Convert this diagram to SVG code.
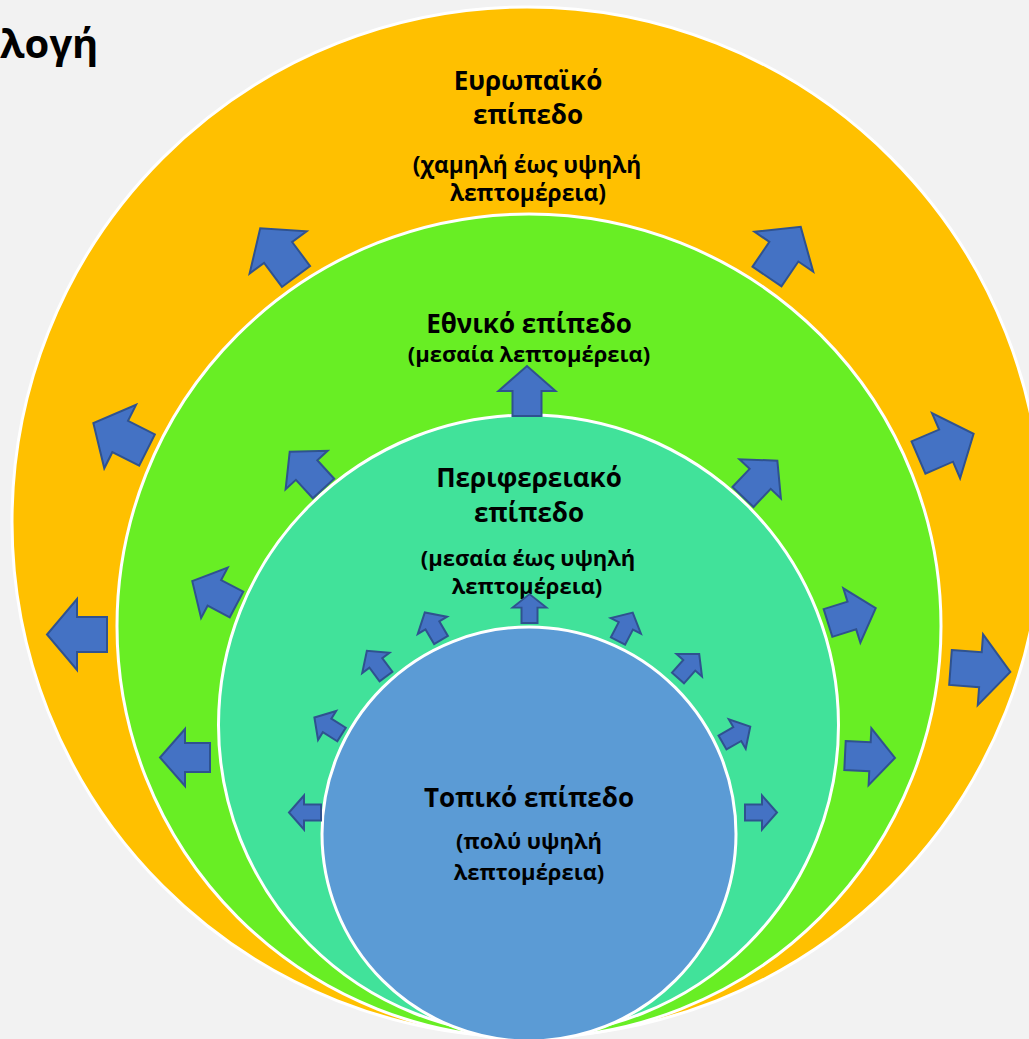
<svg xmlns="http://www.w3.org/2000/svg" xmlns:xlink="http://www.w3.org/1999/xlink" width="1029" height="1039" viewBox="0 0 1029 1039">
<style>
.ring{stroke:#FFFFFF;stroke-width:3}
.arr{fill:#4472C4;stroke:#2F528F;stroke-width:2;stroke-linejoin:miter}
.t{font-family:"Open Sans","Noto Sans","DejaVu Sans",sans-serif;font-weight:bold;fill:#000;text-anchor:middle}
.h{font-size:26px}
.s{font-size:22px}
</style>
<defs>
<path id="aL" d="M0,-17.5 L30,-17.5 L30,-35.5 L60,0 L30,35.5 L30,17.5 L0,17.5 Z"/>
<path id="aM" d="M0,-14.5 L25,-14.5 L25,-28.5 L50,0 L25,28.5 L25,14.5 L0,14.5 Z"/>
<path id="aS" d="M0,-8 L17,-8 L17,-17 L32,0 L17,17 L17,8 L0,8 Z"/>
</defs>
<rect width="1029" height="1039" fill="#F2F2F2"/>
<text class="t" x="0" y="58" style="font-size:40px;text-anchor:start">λογή</text>
<g id="european"><circle class="ring" cx="527" cy="522" r="515" fill="#FFC000"/>
<text class="t h" x="528" y="90">Ευρωπαϊκό</text>
<text class="t h" x="528" y="124">επίπεδο</text>
<text class="t" x="527" y="173" style="font-size:22.8px">(χαμηλή έως υψηλή</text>
<text class="t" x="528" y="201" style="font-size:22.8px">λεπτομέρεια)</text>
</g>
<g id="national"><circle class="ring" cx="529" cy="626" r="412" fill="#68EE24"/>
<text class="t h" x="529" y="333">Εθνικό επίπεδο</text>
<text class="t s" x="529" y="362">(μεσαία λεπτομέρεια)</text>
</g>
<g id="regional"><circle class="ring" cx="528.5" cy="725" r="310" fill="#41E29A"/>
<text class="t h" x="529" y="487">Περιφερειακό</text>
<text class="t h" x="529" y="522">επίπεδο</text>
<text class="t s" x="528" y="566">(μεσαία έως υψηλή</text>
<text class="t s" x="527" y="594">λεπτομέρεια)</text>
</g>
<g id="local"><circle class="ring" cx="529" cy="834" r="207" fill="#5B9BD5"/>
<text class="t h" x="529" y="807">Τοπικό επίπεδο</text>
<text class="t s" x="529" y="849">(πολύ υψηλή</text>
<text class="t s" x="529" y="880">λεπτομέρεια)</text>
</g>
<g id="connectors">
<use class="arr" href="#aL" transform="translate(296,276.5) rotate(-126.6)"/>
<use class="arr" href="#aL" transform="translate(767,276.5) rotate(-55.8)"/>
<use class="arr" href="#aL" transform="translate(147,450) rotate(-153.4)"/>
<use class="arr" href="#aL" transform="translate(107,634.5) rotate(180)"/>
<use class="arr" href="#aL" transform="translate(918.5,457.5) rotate(-23.3)"/>
<use class="arr" href="#aL" transform="translate(950.5,667.5) rotate(4.3)"/>
<use class="arr" href="#aM" transform="translate(527,416) rotate(-90)"/>
<use class="arr" href="#aM" transform="translate(323.5,488.5) rotate(-132.5)"/>
<use class="arr" href="#aM" transform="translate(236.5,604.5) rotate(-152.2)"/>
<use class="arr" href="#aM" transform="translate(210,757.5) rotate(180)"/>
<use class="arr" href="#aM" transform="translate(743,497) rotate(-46.6)"/>
<use class="arr" href="#aM" transform="translate(828,623) rotate(-17.4)"/>
<use class="arr" href="#aM" transform="translate(845,755.5) rotate(2.8)"/>
<use class="arr" href="#aS" transform="translate(529.5,623) rotate(-90) scale(0.9,1)"/>
<use class="arr" href="#aS" transform="translate(441,640) rotate(-120.4)"/>
<use class="arr" href="#aS" transform="translate(386,676.5) rotate(-126.7)"/>
<use class="arr" href="#aS" transform="translate(341.5,734.5) rotate(-147.9)"/>
<use class="arr" href="#aS" transform="translate(321,812.5) rotate(180)"/>
<use class="arr" href="#aS" transform="translate(618,641) rotate(-62.6)"/>
<use class="arr" href="#aS" transform="translate(678,678) rotate(-48.5)"/>
<use class="arr" href="#aS" transform="translate(722.5,742.5) rotate(-29.8)"/>
<use class="arr" href="#aS" transform="translate(745,812.5) rotate(0)"/>
</g>
</svg>
